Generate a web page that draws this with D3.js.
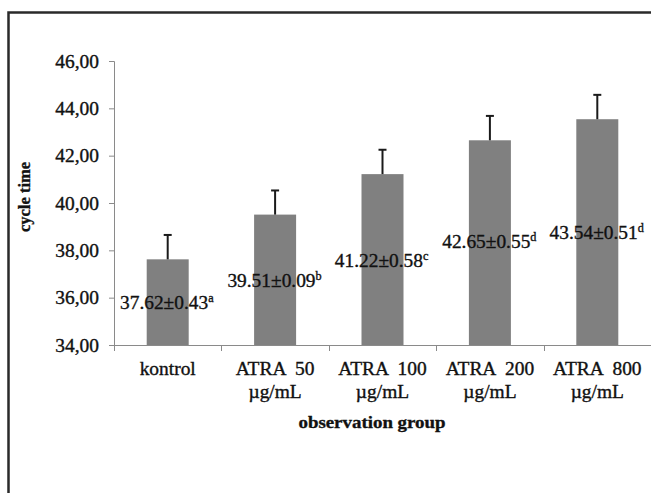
<!DOCTYPE html>
<html>
<head>
<meta charset="utf-8">
<script src="https://cdn.jsdelivr.net/npm/d3@7"></script>
<style>
  body { margin: 0; background: #fff; }
  svg { display: block; font-family: "Liberation Serif", "Times New Roman", serif; }
  text { stroke: #111; stroke-width: 0.35px; }
</style>
</head>
<body>
<svg id="chart" width="651" height="493"></svg>
<script>
// data
const groups = ["kontrol", "ATRA  50\nµg/mL", "ATRA  100\nµg/mL", "ATRA  200\nµg/mL", "ATRA  800\nµg/mL"];
const means = [37.62, 39.51, 41.22, 42.65, 43.54];
const errors = [1.03, 1.02, 1.03, 1.03, 1.03];
const sds = ["0.43", "0.09", "0.58", "0.55", "0.51"];
const letters = ["a", "b", "c", "d", "d"];
const yTicks = [34, 36, 38, 40, 42, 44, 46];

// where each value label sits (in y units, placed by hand in the original)
const labelAt = [35.52, 36.45, 37.3, 38.1, 38.48];

const sx = 1.08; // the original picture is a bit wider than the font
const svg = d3.select("#chart");

svg.append("rect")
  .attr("x", 8.5).attr("y", 12.5)
  .attr("width", 700).attr("height", 520)
  .attr("fill", "none")
  .attr("stroke", "#2a2a2a")
  .attr("stroke-width", 2.5);

const plot = { left: 114, right: 651, top: 61, bottom: 345 };

const y = d3.scaleLinear().domain([34, 46]).range([plot.bottom, plot.top]);
const x = d3.scaleBand().domain(groups).range([plot.left, plot.right]).padding(0);
const barW = 42;

// bars
svg.append("g").selectAll("rect")
  .data(means)
  .join("rect")
  .attr("x", (d, i) => x(groups[i]) + (x.bandwidth() - barW) / 2)
  .attr("y", d => y(d))
  .attr("width", barW)
  .attr("height", d => y(34) - y(d))
  .attr("fill", "#808080");

// error bars (upper only)
const err = svg.append("g").attr("stroke", "#1a1a1a").attr("stroke-width", 2);
means.forEach((m, i) => {
  const cx = x(groups[i]) + x.bandwidth() / 2;
  err.append("line")
    .attr("x1", cx).attr("x2", cx)
    .attr("y1", y(m)).attr("y2", y(m + errors[i]));
  err.append("line")
    .attr("x1", cx - 4).attr("x2", cx + 4)
    .attr("y1", y(m + errors[i])).attr("y2", y(m + errors[i]));
});

// y axis
const yAxis = d3.axisLeft(y)
  .tickValues(yTicks)
  .tickSize(5)
  .tickFormat(d => d3.format(".2f")(d).replace(".", ","));

const yAxisGroup = svg.append("g")
  .attr("transform", `translate(${plot.left},0)`)
  .call(yAxis)
  .attr("font-family", null)
  .attr("font-size", null);

yAxisGroup.select(".domain").attr("stroke", "#8a8a8a");
yAxisGroup.selectAll(".tick line").attr("stroke", "#8a8a8a");
yAxisGroup.selectAll("text")
  .attr("font-size", 18)
  .attr("fill", "#111")
  .attr("x", -15 / sx)
  .attr("dy", "0.34em")
  .attr("transform", `scale(${sx},1)`);

// x axis line and ticks at band edges
const xAxisGroup = svg.append("g").attr("stroke", "#8a8a8a").attr("stroke-width", 1);
xAxisGroup.append("line")
  .attr("x1", plot.left).attr("x2", plot.right)
  .attr("y1", y(34) + 0.5).attr("y2", y(34) + 0.5);
groups.forEach((g, i) => {
  const ex = Math.round(x(g) + x.bandwidth()) + 0.5;
  xAxisGroup.append("line")
    .attr("x1", ex).attr("x2", ex)
    .attr("y1", y(34)).attr("y2", y(34) + 6);
});
xAxisGroup.append("line")
  .attr("x1", plot.left + 0.5).attr("x2", plot.left + 0.5)
  .attr("y1", y(34)).attr("y2", y(34) + 6);

// category labels
groups.forEach(g => {
  const cx = x(g) + x.bandwidth() / 2;
  g.split("\n").forEach((line, j) => {
    svg.append("text")
      .attr("transform", `translate(${cx},${375 + j * 23}) scale(${sx},1)`)
      .attr("text-anchor", "middle")
      .attr("font-size", 18)
      .attr("fill", "#111")
      .style("white-space", "pre")
      .text(line);
  });
});

// value labels
means.forEach((m, i) => {
  const t = svg.append("text")
    .attr("transform", `translate(${x(groups[i]) + 6},${y(labelAt[i])}) scale(1.02,1)`)
    .attr("font-size", 19)
    .attr("fill", "#111");
  t.append("tspan").text(`${m.toFixed(2)}±${sds[i]}`);
  t.append("tspan")
    .attr("font-size", 12)
    .attr("dy", -7)
    .text(letters[i]);
});

// axis titles
svg.append("text")
  .attr("transform", `translate(372,428) scale(${sx},1)`)
  .attr("text-anchor", "middle")
  .attr("font-size", 17.5)
  .attr("font-weight", "bold")
  .attr("fill", "#111")
  .text("observation group");

svg.append("text")
  .attr("transform", "translate(30,197) rotate(-90)")
  .attr("text-anchor", "middle")
  .attr("font-size", 16.5)
  .attr("font-weight", "bold")
  .attr("fill", "#111")
  .text("cycle time");
</script>
</body>
</html>
